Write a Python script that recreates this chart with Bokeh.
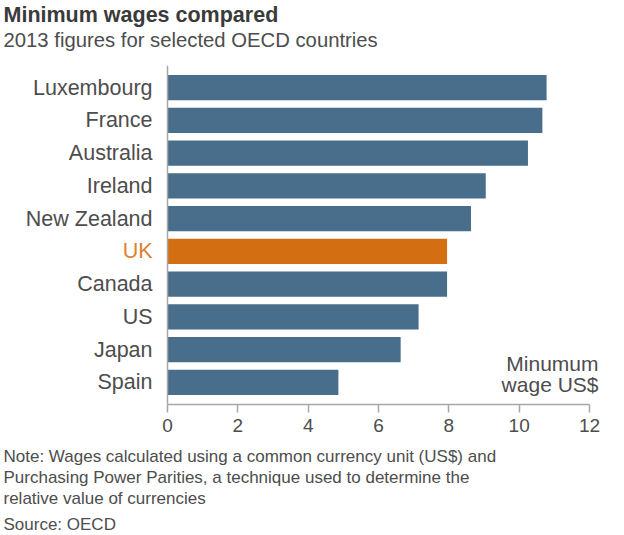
from bokeh.plotting import figure
from bokeh.models import ColumnDataSource, FactorRange, Range1d, FixedTicker, Span, Title
from bokeh.core.properties import value
from bokeh.embed import file_html
from bokeh.resources import INLINE

countries = ["Luxembourg", "France", "Australia", "Ireland", "New Zealand",
             "UK", "Canada", "US", "Japan", "Spain"]
wages = [10.78, 10.66, 10.25, 9.05, 8.63, 7.95, 7.95, 7.14, 6.63, 4.86]
x_ticks = [0, 2, 4, 6, 8, 10, 12]

title = "Minimum wages compared"
subtitle = "2013 figures for selected OECD countries"
axis_note = ["Minumum", "wage US$"]
note_lines = ["Note: Wages calculated using a common currency unit (US$) and",
              "Purchasing Power Parities, a technique used to determine the",
              "relative value of currencies"]
source_text = "Source: OECD"

BLUE = "#486e8c"
ORANGE = "#d36f12"
TEXT = "#4d4d4d"
FONT = "Liberation Sans"

bar_colors = [ORANGE if c == "UK" else BLUE for c in countries]
label_colors = ["#e0812e" if c == "UK" else TEXT for c in countries]

src = ColumnDataSource(dict(country=countries, wage=wages, color=bar_colors,
                            lcolor=label_colors, zero=[0] * len(countries)))

yr = FactorRange(factors=list(reversed(countries)), range_padding=0.175,
                 range_padding_units="absolute")

# frame spans the full width; 0 -> 167px, 12 -> 589px
px_per_unit = (589 - 167) / 12.0
xr = Range1d(-167 / px_per_unit, 12 + (624 - 589) / px_per_unit)

p = figure(width=624, height=535, y_range=yr, x_range=xr,
           output_backend="svg", toolbar_location=None,
           min_border_left=0, min_border_right=0,
           min_border_top=0, min_border_bottom=131)
p.outline_line_color = None
p.background_fill_color = "white"
p.border_fill_color = "white"
p.xgrid.visible = False
p.ygrid.visible = False
p.yaxis.visible = False

p.hbar(y="country", right="wage", left=0, height=0.77, color="color",
       line_color=None, source=src)

# vertical zero line
p.add_layout(Span(location=0, dimension="height", line_color="#a8a8a8",
                  line_width=1.5))

# x axis limited to 0..12
xa = p.xaxis[0]
xa.bounds = (0, 12)
xa.ticker = FixedTicker(ticks=x_ticks)
xa.minor_tick_line_color = None
xa.major_tick_out = 8
xa.major_tick_in = 0
xa.axis_line_color = "#a8a8a8"
xa.major_tick_line_color = "#a8a8a8"
xa.axis_line_width = 1.5
xa.major_tick_line_width = 1.5
xa.major_label_text_font = FONT
xa.major_label_text_font_size = "19px"
xa.major_label_text_color = TEXT
xa.major_label_standoff = 6

# country labels
p.text(x="zero", y="country", text="country", source=src, x_offset=-15,
       text_align="right", text_baseline="middle", text_color="lcolor",
       text_font=value(FONT), text_font_size="21.5px")

# axis note, anchored to the last category
note_src = ColumnDataSource(dict(x=[12, 12], y=[countries[-1]] * 2,
                                 text=axis_note, dy=[-19, 2]))
p.text(x="x", y="y", text="text", y_offset="dy", x_offset=9, source=note_src,
       text_align="right", text_baseline="middle", text_color=TEXT,
       text_font=value(FONT), text_font_size="21px")

# titles above (first added is nearest the frame)
p.add_layout(Title(text=subtitle, align="left", offset=3, standoff=0,
                   padding=dict(left=0, right=0, top=0, bottom=15),
                   text_font=FONT, text_font_size="20.3px", text_color=TEXT,
                   text_font_style="normal"), "above")
p.add_layout(Title(text=title, align="left", offset=3, standoff=0,
                   text_font=FONT, text_font_size="21.5px", text_color="#3a3a3a",
                   text_font_style="bold"), "above")

# notes below
for i, t in enumerate(note_lines):
    pad = dict(left=0, right=0, top=10 if i == 0 else 0, bottom=0)
    p.add_layout(Title(text=t, align="left", offset=3, standoff=0, padding=pad,
                       text_font=FONT, text_font_size="17px", text_color=TEXT,
                       text_font_style="normal"), "below")
p.add_layout(Title(text=source_text, align="left", offset=3, standoff=0,
                   padding=dict(left=0, right=0, top=5, bottom=0),
                   text_font=FONT, text_font_size="17px", text_color=TEXT,
                   text_font_style="normal"), "below")

open("out.html", "w").write(file_html(p, INLINE))
